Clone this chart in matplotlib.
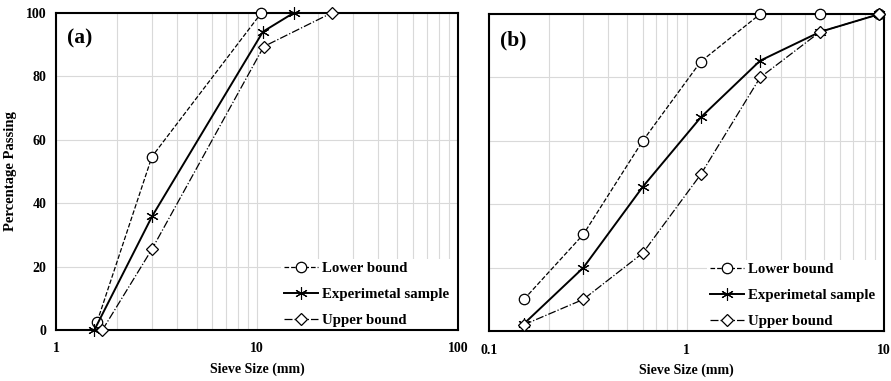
import numpy as np
import matplotlib.pyplot as plt
from matplotlib.patches import Rectangle
from matplotlib.ticker import LogLocator, NullFormatter

plt.rcParams['font.family'] = ['Liberation Serif', 'DejaVu Serif']
plt.rcParams['font.weight'] = 'bold'

# panel (a) - coarse aggregate
size_a_low = [1.6, 3.0, 10.5]
pass_a_low = [2.6, 54.7, 100]
size_a_exp = [1.55, 3.0, 10.7, 15.2]
pass_a_exp = [0, 35.8, 94.1, 100]
size_a_up = [1.7, 3.0, 10.8, 23.5]
pass_a_up = [0, 25.5, 89.4, 100]

# panel (b) - fine aggregate
size_b = [0.15, 0.3, 0.6, 1.18, 2.36, 4.75, 9.5]
pass_b_low = [10, 30.5, 60, 85, 100, 100, 100]
pass_b_exp = [2.3, 20, 45.5, 67.4, 85.3, 94.4, 100]
pass_b_up = [2, 10, 24.6, 49.4, 80, 94.4, 100]

labels = ['Lower bound', 'Experimetal sample', 'Upper bound']

fig = plt.figure(figsize=(8.91, 3.81), dpi=100)
ax1 = fig.add_axes([0.063, 0.134, 0.451, 0.832])
ax2 = fig.add_axes([0.549, 0.131, 0.443, 0.832])


def style_lines(ax, xs, ys):
    ax.plot(xs[0], ys[0], '--', color='black', lw=0.9, marker='o', ms=7.5,
            mfc='white', mec='black', mew=0.9, label=labels[0], clip_on=False, zorder=3)
    ax.plot(xs[1], ys[1], '-', color='black', lw=1.4, marker=(6, 2, 0), ms=9,
            mec='black', mew=0.8, label=labels[1], clip_on=False, zorder=3)
    ax.plot(xs[2], ys[2], '-.', color='black', lw=0.9, marker='D', ms=6,
            mfc='white', mec='black', mew=0.9, label=labels[2], clip_on=False, zorder=3)


style_lines(ax1, [size_a_low, size_a_exp, size_a_up], [pass_a_low, pass_a_exp, pass_a_up])
style_lines(ax2, [size_b, size_b, size_b], [pass_b_low, pass_b_exp, pass_b_up])

legends = []
for ax, lims, lab in [(ax1, (1, 100), '(a)'), (ax2, (0.1, 10), '(b)')]:
    ax.set_xscale('log')
    ax.set_xlim(*lims)
    ax.set_ylim(0, 100)
    ax.xaxis.set_minor_locator(LogLocator(base=10, subs=np.arange(2, 10)))
    ax.xaxis.set_minor_formatter(NullFormatter())
    ax.set_yticks([0, 20, 40, 60, 80, 100])
    ax.grid(True, which='both', axis='x', color='#d9d9d9', lw=0.8)
    ax.grid(True, which='major', axis='y', color='#d9d9d9', lw=0.8)
    ax.set_axisbelow(True)
    ax.tick_params(which='both', length=0, labelsize=10, pad=9)
    ax.tick_params(axis='y', pad=7)
    for s in ax.spines.values():
        s.set_linewidth(1.5)
    ax.set_xlabel('Sieve Size (mm)', fontsize=10, fontweight='bold', labelpad=5)
    ax.text(0.027, 0.918, lab, transform=ax.transAxes, fontsize=15.5,
            fontweight='bold', va='center')
    # shift legend a little left of the right spine, like the original
    leg = ax.legend(loc='lower right', bbox_to_anchor=(0.985, 0), frameon=True,
                    fancybox=False, fontsize=10.7, handlelength=2.3,
                    handletextpad=0.25, borderaxespad=0, labelspacing=0.85,
                    borderpad=0.2)
    leg.get_frame().set_edgecolor('white')
    leg.get_frame().set_linewidth(0)
    leg.get_frame().set_alpha(1)
    leg.set_zorder(2)
    legends.append((ax, leg))

ax1.set_xticks([1, 10, 100])
ax1.set_xticklabels(['1', '10', '100'])
ax2.set_xticks([0.1, 1, 10])
ax2.set_xticklabels(['0.1', '1', '10'])
ax2.set_yticklabels([])
ax1.set_ylabel('Percentage Passing', fontsize=10.5, fontweight='bold', labelpad=6)
for t in ax1.get_xticklabels() + ax1.get_yticklabels() + ax2.get_xticklabels():
    t.set_fontweight('bold')

# white backing from legend box to the right spine
fig.canvas.draw()
for ax, leg in legends:
    bb = leg.get_window_extent().transformed(ax.transAxes.inverted())
    ax.add_patch(Rectangle((bb.x0, 0), 1 - bb.x0, bb.y1, transform=ax.transAxes,
                           facecolor='white', edgecolor='none', zorder=1.5))

fig.savefig('out.png', dpi=100)
